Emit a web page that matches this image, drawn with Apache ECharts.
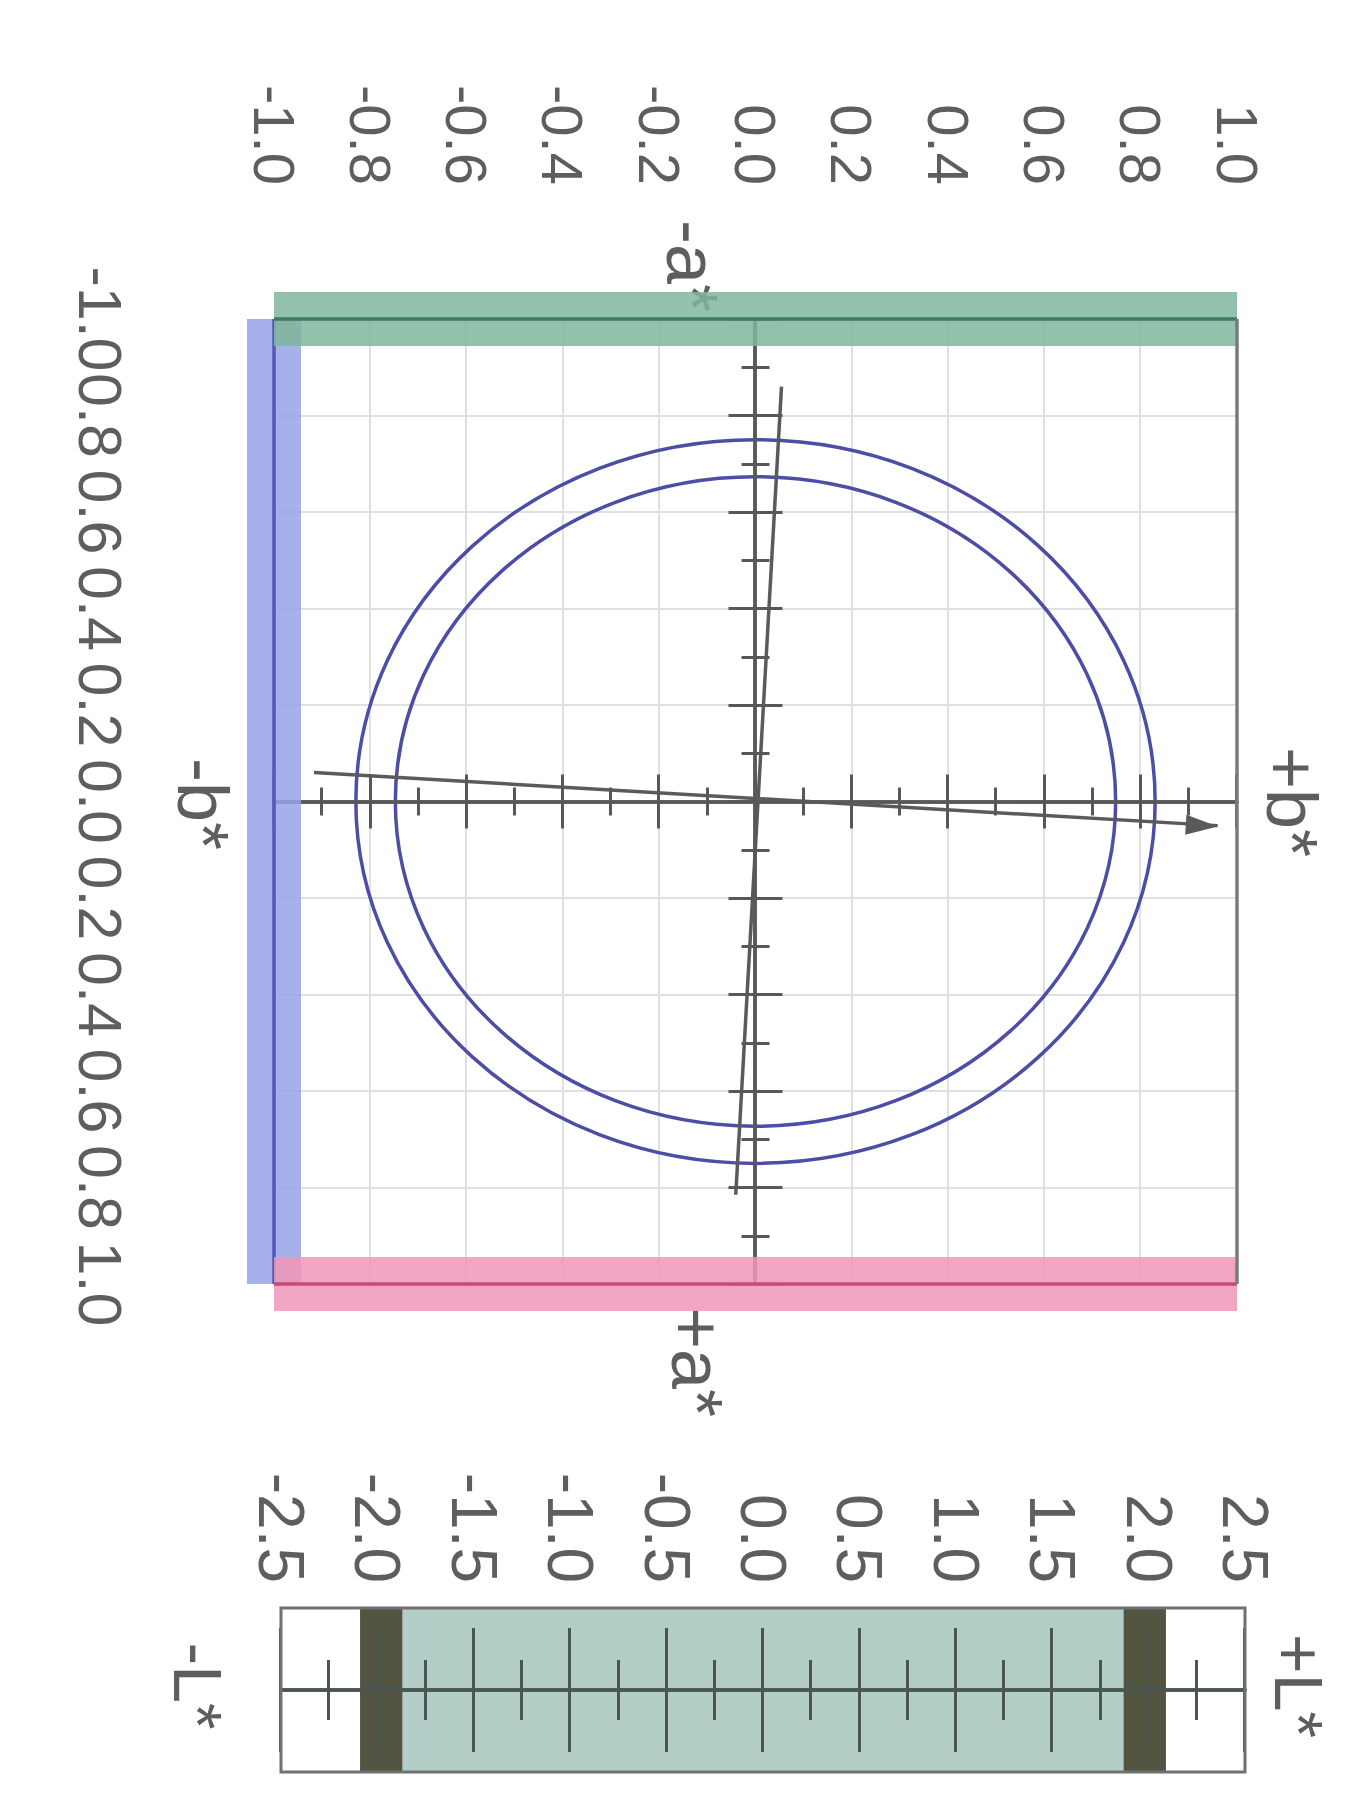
<!DOCTYPE html>
<html>
<head>
<meta charset="utf-8">
<title>a*b* and L* tolerance</title>
<script src="https://cdn.jsdelivr.net/npm/echarts@6/dist/echarts.min.js"></script>
<style>
  html, body { margin: 0; padding: 0; background: #fff; overflow: hidden; }
  /* the figure is printed sideways: draw it 1812 x 1345 and turn it a quarter clockwise */
  #page {
    position: absolute; left: 0; top: 0;
    width: 1812px; height: 1345px;
    transform-origin: 0 0;
    transform: translate(1345px, 0) rotate(90deg);
  }
</style>
</head>
<body>
<div id="page"></div>
<script>
// ---- data ----
const abTicks = [-1.0, -0.8, -0.6, -0.4, -0.2, 0.0, 0.2, 0.4, 0.6, 0.8, 1.0];
const aTickLabels = ['-1.0', '0.8', '0.6', '0.4', '0.2', '0.0', '0.2', '0.4', '0.6', '0.8', '1.0'];
const bTickLabels = ['-1.0', '-0.8', '-0.6', '-0.4', '-0.2', '0.0', '0.2', '0.4', '0.6', '0.8', '1.0'];
const lTicks = [-2.5, -2.0, -1.5, -1.0, -0.5, 0.0, 0.5, 1.0, 1.5, 2.0, 2.5];
const lTickLabels = ['-2.5', '-2.0', '-1.5', '-1.0', '-0.5', '0.0', '0.5', '1.0', '1.5', '2.0', '2.5'];

// tolerance ellipses, semi axes along a* and b*
const ellipseRa = [0.75, 0.673];
const ellipseRb = [0.83, 0.748];

// turned a* / b* axes (end points)
const tiltA = [[-0.86, 0.054], [0.815, -0.041]];
const tiltB = [[-0.06, -0.917], [0.05, 0.96]];

// edges of the a*b* square: [a1, b1, a2, b2]
const edgeNames = ['-b*', '-a*', '+a*', '+b*'];
const edgeSegments = [[-1, -1, 1, -1], [-1, -1, -1, 1], [1, -1, 1, 1], [-1, 1, 1, 1]];

// L* bar ranges
const lFillRange = [-1.87, 1.87];
const lLimitRanges = [[-2.09, -1.87], [1.87, 2.09]];

// ---- styles ----
const FONT = "'Liberation Sans', Arial, sans-serif";
const textGray = '#5e5e5e';
const axisGray = '#585858';
const edgeStyle = {
  '-b*': { fill: 'rgba(150,162,232,0.85)', line: '#5558b8' },
  '-a*': { fill: 'rgba(128,182,156,0.85)', line: '#3d7a5f' },
  '+a*': { fill: 'rgba(240,150,184,0.85)', line: '#c64a7c' },
  '+b*': { fill: null, line: '#7a7a7a' }
};

function pickLabel(ticks, labels) {
  return function (v) {
    const i = ticks.findIndex(t => Math.abs(t - v) < 1e-6);
    return i < 0 ? '' : labels[i];
  };
}

// axis through zero with ticks crossing it (two copies, ticks pointing in from each side)
function zeroAxis(extra, color, tick, minor) {
  return Object.assign({
    type: 'value', z: 6,
    axisTick: { show: true, inside: true, length: tick, lineStyle: { color: color, width: 3 } },
    minorTick: { show: true, splitNumber: 2, length: minor, lineStyle: { color: color, width: 3 } },
    axisLabel: { show: false },
    splitLine: { show: false },
    minorSplitLine: { show: false }
  }, extra);
}

const chart = echarts.init(document.getElementById('page'), null, { renderer: 'svg' });

const option = {
  animation: false,
  backgroundColor: '#fff',
  grid: [
    { left: 319, top: 108, width: 965, height: 963, outerBoundsMode: 'none' },
    { left: 1608, top: 100, width: 164, height: 964, outerBoundsMode: 'none' }
  ],
  xAxis: [
    {
      gridIndex: 0, type: 'value', min: -1, max: 1, interval: 0.2, position: 'bottom',
      axisLine: { show: false, onZero: false }, axisTick: { show: false },
      axisLabel: {
        fontSize: 61, fontFamily: FONT, color: textGray, margin: 144,
        showMinLabel: true, showMaxLabel: true, hideOverlap: false,
        formatter: pickLabel(abTicks, aTickLabels)
      },
      splitLine: { show: true, lineStyle: { color: '#e0e0e0', width: 2 } }
    },
    zeroAxis({ gridIndex: 0, min: -1, max: 1, interval: 0.2, position: 'bottom',
      axisLine: { show: true, onZero: true, onZeroAxisIndex: 0, lineStyle: { color: axisGray, width: 3.5 } } }, axisGray, 27, 14),
    zeroAxis({ gridIndex: 0, min: -1, max: 1, interval: 0.2, position: 'top',
      axisLine: { show: true, onZero: true, onZeroAxisIndex: 0, lineStyle: { color: axisGray, width: 3.5 } } }, axisGray, 27, 14),
    { gridIndex: 1, type: 'value', min: -1, max: 1, show: false }
  ],
  yAxis: [
    {
      gridIndex: 0, type: 'value', min: -1, max: 1, interval: 0.2, position: 'left',
      axisLine: { show: false, onZero: false }, axisTick: { show: false },
      axisLabel: {
        fontSize: 58, fontFamily: FONT, color: textGray, margin: 134,
        showMinLabel: true, showMaxLabel: true, hideOverlap: false,
        formatter: pickLabel(abTicks, bTickLabels)
      },
      splitLine: { show: true, lineStyle: { color: '#e0e0e0', width: 2 } }
    },
    zeroAxis({ gridIndex: 0, min: -1, max: 1, interval: 0.2, position: 'left',
      axisLine: { show: true, onZero: true, onZeroAxisIndex: 0, lineStyle: { color: axisGray, width: 3.5 } } }, axisGray, 27, 14),
    zeroAxis({ gridIndex: 0, min: -1, max: 1, interval: 0.2, position: 'right',
      axisLine: { show: true, onZero: true, onZeroAxisIndex: 0, lineStyle: { color: axisGray, width: 3.5 } } }, axisGray, 27, 14),
    {
      gridIndex: 1, type: 'value', min: -2.5, max: 2.5, interval: 0.5, position: 'left',
      axisLine: { show: false, onZero: false }, axisTick: { show: false },
      axisLabel: {
        fontSize: 64, fontFamily: FONT, color: textGray, margin: 25,
        showMinLabel: true, showMaxLabel: true, hideOverlap: false,
        formatter: pickLabel(lTicks, lTickLabels)
      },
      splitLine: { show: false }
    },
    zeroAxis({ gridIndex: 1, min: -2.5, max: 2.5, interval: 0.5, position: 'left',
      axisLine: { show: true, onZero: true, onZeroAxisIndex: 3, lineStyle: { color: '#4a5652', width: 3.5 } } }, '#4a5652', 62, 30),
    zeroAxis({ gridIndex: 1, min: -2.5, max: 2.5, interval: 0.5, position: 'right',
      axisLine: { show: true, onZero: true, onZeroAxisIndex: 3, lineStyle: { color: '#4a5652', width: 3.5 } } }, '#4a5652', 62, 30)
  ],
  series: [
    // tolerance ellipses
    {
      type: 'custom', xAxisIndex: 0, yAxisIndex: 0, z: 4, clip: false, silent: true,
      data: ellipseRa.map((ra, i) => [ra, ellipseRb[i]]),
      renderItem: function (params, api) {
        const c = api.coord([0, 0]);
        const s = api.size([api.value(0) * 2, api.value(1) * 2]);
        return {
          type: 'ellipse',
          shape: { cx: c[0], cy: c[1], rx: s[0] / 2, ry: s[1] / 2 },
          style: { fill: 'none', stroke: '#4c4ea6', lineWidth: 3.5 }
        };
      }
    },
    // turned axes
    {
      type: 'line', xAxisIndex: 0, yAxisIndex: 0, z: 5, silent: true,
      data: tiltA.map(p => ({ value: p, symbol: 'none' })),
      lineStyle: { color: '#5a5a5a', width: 3.5 }
    },
    {
      type: 'line', xAxisIndex: 0, yAxisIndex: 0, z: 5, silent: true,
      data: [
        { value: tiltB[0], symbol: 'none' },
        { value: tiltB[1], symbol: 'triangle', symbolSize: [20, 32], symbolRotate: -3.4, symbolOffset: [0, '50%'] }
      ],
      itemStyle: { color: '#5a5a5a' },
      lineStyle: { color: '#5a5a5a', width: 3.5 }
    },
    // coloured edges of the square
    {
      type: 'custom', xAxisIndex: 0, yAxisIndex: 0, z: 7, clip: false, silent: true,
      data: edgeSegments,
      renderItem: function (params, api) {
        const st = edgeStyle[edgeNames[params.dataIndex]];
        const p1 = api.coord([api.value(0), api.value(1)]);
        const p2 = api.coord([api.value(2), api.value(3)]);
        const t = 54;
        const children = [];
        if (st.fill) {
          const x = Math.min(p1[0], p2[0]);
          const y = Math.min(p1[1], p2[1]);
          const w = Math.abs(p2[0] - p1[0]);
          const h = Math.abs(p2[1] - p1[1]);
          children.push({
            type: 'rect',
            shape: w < 1 ? { x: x - t / 2, y: y, width: t, height: h } : { x: x, y: y - t / 2, width: w, height: t },
            style: { fill: st.fill }
          });
        }
        children.push({
          type: 'line',
          shape: { x1: p1[0], y1: p1[1], x2: p2[0], y2: p2[1] },
          style: { stroke: st.line, lineWidth: 3.5 }
        });
        return { type: 'group', children: children };
      }
    },
    // L* bar fills
    {
      type: 'custom', xAxisIndex: 3, yAxisIndex: 3, z: 2, clip: false, silent: true,
      data: [lFillRange].concat(lLimitRanges),
      renderItem: function (params, api) {
        const p1 = api.coord([-1, api.value(0)]);
        const p2 = api.coord([1, api.value(1)]);
        return {
          type: 'rect',
          shape: { x: p1[0], y: p2[1], width: p2[0] - p1[0], height: p1[1] - p2[1] },
          style: { fill: params.dataIndex === 0 ? '#b3cdc7' : '#535442' }
        };
      }
    },
    // L* bar frame
    {
      type: 'custom', xAxisIndex: 3, yAxisIndex: 3, z: 8, clip: false, silent: true,
      data: [[lTicks[0], lTicks[lTicks.length - 1]]],
      renderItem: function (params, api) {
        const p1 = api.coord([-1, api.value(0)]);
        const p2 = api.coord([1, api.value(1)]);
        return {
          type: 'rect',
          shape: { x: p1[0], y: p2[1], width: p2[0] - p1[0], height: p1[1] - p2[1] },
          style: { fill: 'none', stroke: '#707070', lineWidth: 3 }
        };
      }
    }
  ],
  graphic: [
    { type: 'text', x: 802, y: 53, style: { text: '+b*', fontSize: 72, fontFamily: FONT, fill: textGray, align: 'center', verticalAlign: 'middle' } },
    { type: 'text', x: 804, y: 1142, style: { text: '-b*', fontSize: 72, fontFamily: FONT, fill: textGray, align: 'center', verticalAlign: 'middle' } },
    { type: 'text', x: 266, y: 653, style: { text: '-a*', fontSize: 72, fontFamily: FONT, fill: textGray, align: 'center', verticalAlign: 'middle' } },
    { type: 'text', x: 1362, y: 648, style: { text: '+a*', fontSize: 72, fontFamily: FONT, fill: textGray, align: 'center', verticalAlign: 'middle' } },
    { type: 'text', x: 1686, y: 46, style: { text: '+L*', fontSize: 68, fontFamily: FONT, fill: textGray, align: 'center', verticalAlign: 'middle' } },
    { type: 'text', x: 1686, y: 1147, style: { text: '-L*', fontSize: 68, fontFamily: FONT, fill: textGray, align: 'center', verticalAlign: 'middle' } }
  ]
};

chart.setOption(option);
</script>
</body>
</html>
